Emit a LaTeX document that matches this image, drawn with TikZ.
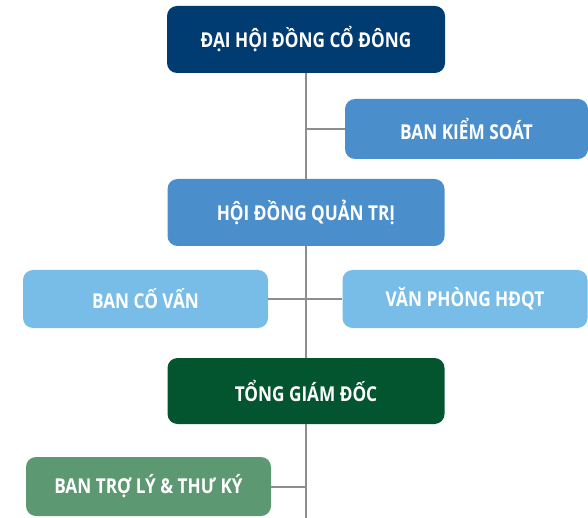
\documentclass[tikz,border=0pt]{standalone}
\usepackage{fontspec}
\setmainfont{Open Sans}[FakeStretch=0.84]
\usepackage{tikz}

\definecolor{navy}{HTML}{003B71}
\definecolor{midblue}{HTML}{4A8FCC}
\definecolor{lightblue}{HTML}{77BDE8}
\definecolor{darkgreen}{HTML}{03552F}
\definecolor{lightgreen}{HTML}{5C9872}
\definecolor{linegray}{HTML}{8E8E8E}

\begin{document}
\begin{tikzpicture}[x=1pt,y=-1pt,
				box/.style={rectangle, rounded corners=10pt, text=white, inner sep=0pt,
					font=\bfseries\fontsize{20.5}{22}\selectfont},
				boxTop/.style={box, fill=navy, minimum width=278pt, minimum height=67pt},
				boxMid/.style={box, fill=midblue, minimum width=277pt, minimum height=67pt},
				boxSide/.style={box, fill=midblue, minimum width=243pt, minimum height=60pt},
				boxLight/.style={box, fill=lightblue, minimum width=245pt, minimum height=58pt},
				boxCeo/.style={box, fill=darkgreen, minimum width=277pt, minimum height=66pt},
				boxAsst/.style={box, fill=lightgreen, minimum width=245pt, minimum height=59pt},
				link/.style={draw=linegray, line width=2pt}]
	\useasboundingbox (0,0) rectangle (588,518);
	\node[boxTop] (DHCD) at (306,39.5) {ĐẠI HỘI ĐỒNG CỔ ĐÔNG};
	\node[boxSide] (BKS) at (466.5,129) {BAN KIỂM SOÁT};
	\node[boxMid] (HDQT) at (306,212.5) {HỘI ĐỒNG QUẢN TRỊ};
	\node[boxLight] (BCV) at (145.5,299) {BAN CỐ VẤN};
	\node[boxLight] (VP) at (465,299) {VĂN PHÒNG HĐQT};
	\node[boxCeo] (TGD) at (306,391) {TỔNG GIÁM ĐỐC};
	\node[boxAsst] (BTL) at (148.5,486.5) {BAN TRỢ LÝ \& THƯ KÝ};
	\coordinate (End) at (306,518);
	\draw[link] (DHCD) -- (HDQT);
	\draw[link] (HDQT) -- (TGD);
	\draw[link] (TGD) -- (End);
	\draw[link] (BKS.west) -- (BKS.west -| DHCD.south);
	\draw[link] (BCV) -- (VP);
	\draw[link] (BTL.east) -- (BTL.east -| End);
\end{tikzpicture}
\end{document}
